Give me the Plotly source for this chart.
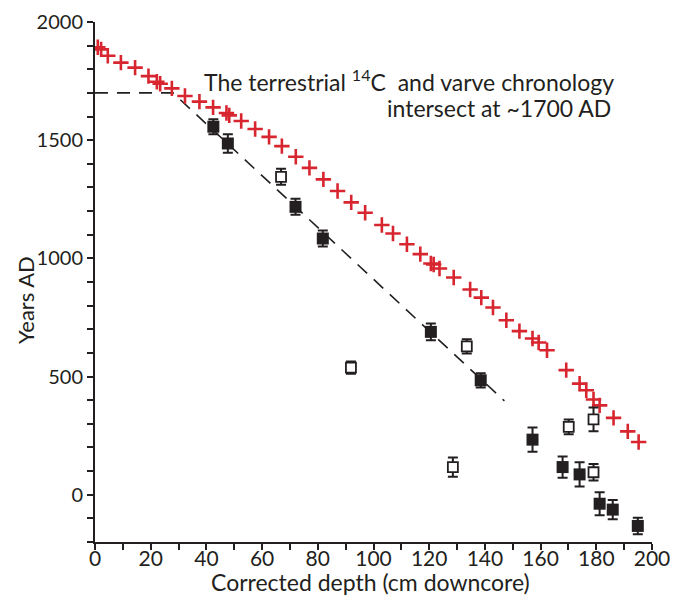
import plotly.graph_objects as go

# Terrestrial 14C chronology (red crosses)
red_depth = [1.0, 2.2, 4.6, 9.3, 14.4, 19.2, 22.2, 23.4, 27.6, 32.3, 37.5, 42.4, 47.2, 48.2,
             52.5, 57.5, 62.5, 67.1, 72.1, 77.0, 82.0, 87.1, 92.0, 97.0, 103.0, 107.0, 112.0,
             116.8, 120.6, 121.6, 123.7, 128.8, 134.7, 138.7, 142.9, 147.7, 152.4, 157.1,
             159.3, 162.3, 169.2, 174.0, 176.4, 179.0, 181.2, 186.2, 191.3, 195.2]
red_year = [1893, 1884, 1857, 1828, 1807, 1771, 1747, 1739, 1719, 1687, 1663, 1639, 1615, 1605,
            1581, 1547, 1514, 1475, 1430, 1383, 1334, 1285, 1237, 1193, 1141, 1105, 1060,
            1018, 978, 974, 957, 919, 868, 834, 792, 738, 692, 661, 644, 611, 527, 470, 442,
            403, 378, 325, 268, 223]

# Filled squares
filled_depth = [42.5, 47.7, 72.0, 81.8, 120.6, 138.5, 157.1, 167.9, 174.0, 181.2, 185.9, 194.9]
filled_year = [1557, 1486, 1218, 1084, 689, 484, 233, 117, 86, -38, -63, -132]
filled_err = [32, 39, 34, 34, 35, 30, 51, 45, 51, 49, 41, 35]

# Open squares
open_depth = [66.8, 91.9, 128.5, 133.5, 170.1, 179.0, 179.0]
open_year = [1345, 538, 117, 628, 287, 319, 95]
open_err = [34, 26, 41, 30, 31, 50, 35]

# Dashed guide line (intersection at ~1700 AD)
guide_depth = [0, 28, 147]
guide_year = [1700, 1700, 397]

y_tickvals = [0, 500, 1000, 1500, 2000]
x_tickvals = [0, 20, 40, 60, 80, 100, 120, 140, 160, 180, 200]

INK = "#231f20"
RED = "#d7262f"
FONT = "Lato, 'Open Sans', sans-serif"

fig = go.Figure()

fig.add_trace(go.Scatter(
    x=guide_depth, y=guide_year, mode="lines",
    line=dict(color=INK, width=1.6, dash="13px,9px"),
    hoverinfo="skip", showlegend=False))

fig.add_trace(go.Scatter(
    x=red_depth, y=red_year, mode="markers",
    marker=dict(symbol="cross-thin", size=11, line=dict(color=RED, width=2.6)),
    showlegend=False))

fig.add_trace(go.Scatter(
    x=filled_depth, y=filled_year, mode="markers",
    marker=dict(symbol="square", size=12, color=INK, line=dict(color=INK, width=0)),
    error_y=dict(type="data", array=filled_err, visible=True, color=INK, thickness=2, width=5),
    showlegend=False))

fig.add_trace(go.Scatter(
    x=open_depth, y=open_year, mode="markers",
    marker=dict(symbol="square", size=10, color="white", line=dict(color=INK, width=1.8)),
    error_y=dict(type="data", array=open_err, visible=True, color=INK, thickness=2, width=5),
    showlegend=False))

axis_common = dict(
    ticks="outside", ticklen=6, tickwidth=1.5, tickcolor=INK,
    showline=True, linecolor=INK, linewidth=2, showgrid=False, zeroline=False,
    automargin=False,
)

# page body has an 8px default margin, so offsets are compensated here
fig.update_layout(
    width=688, height=596,
    margin=dict(l=87, r=44, t=14, b=62, autoexpand=False),
    plot_bgcolor="white", paper_bgcolor="white",
    font=dict(family=FONT, size=20, color=INK),
    xaxis=dict(
        range=[0, 200], tickvals=x_tickvals, tickfont=dict(size=21), ticklabelstandoff=-9,
        minor=dict(dtick=10, ticks="outside", ticklen=6, tickwidth=1.5, tickcolor=INK, showgrid=False),
        **axis_common,
    ),
    yaxis=dict(
        range=[-200, 2000], tickvals=y_tickvals, tickfont=dict(size=20),
        minor=dict(dtick=100, ticks="outside", ticklen=6, tickwidth=1.5, tickcolor=INK, showgrid=False),
        **axis_common,
    ),
    annotations=[
        dict(text="Corrected depth (cm downcore)", xref="paper", yref="paper",
             x=0.494, y=-0.077, xanchor="center", yanchor="middle", showarrow=False,
             font=dict(size=23, color=INK)),
        dict(text="Years AD", xref="paper", yref="paper", textangle=-90,
             x=-0.126, y=0.465, xanchor="center", yanchor="middle", showarrow=False,
             font=dict(size=22, color=INK)),
        dict(text="The terrestrial <sup>14</sup>C  and varve chronology",
             xref="paper", yref="paper", x=0.192, y=0.887, xanchor="left", yanchor="middle",
             showarrow=False, font=dict(size=23, color=INK)),
        dict(text="intersect at ~1700 AD",
             xref="paper", yref="paper", x=0.930, y=0.834, xanchor="right", yanchor="middle",
             showarrow=False, font=dict(size=23, color=INK)),
    ],
)

fig.write_html("out.html")
